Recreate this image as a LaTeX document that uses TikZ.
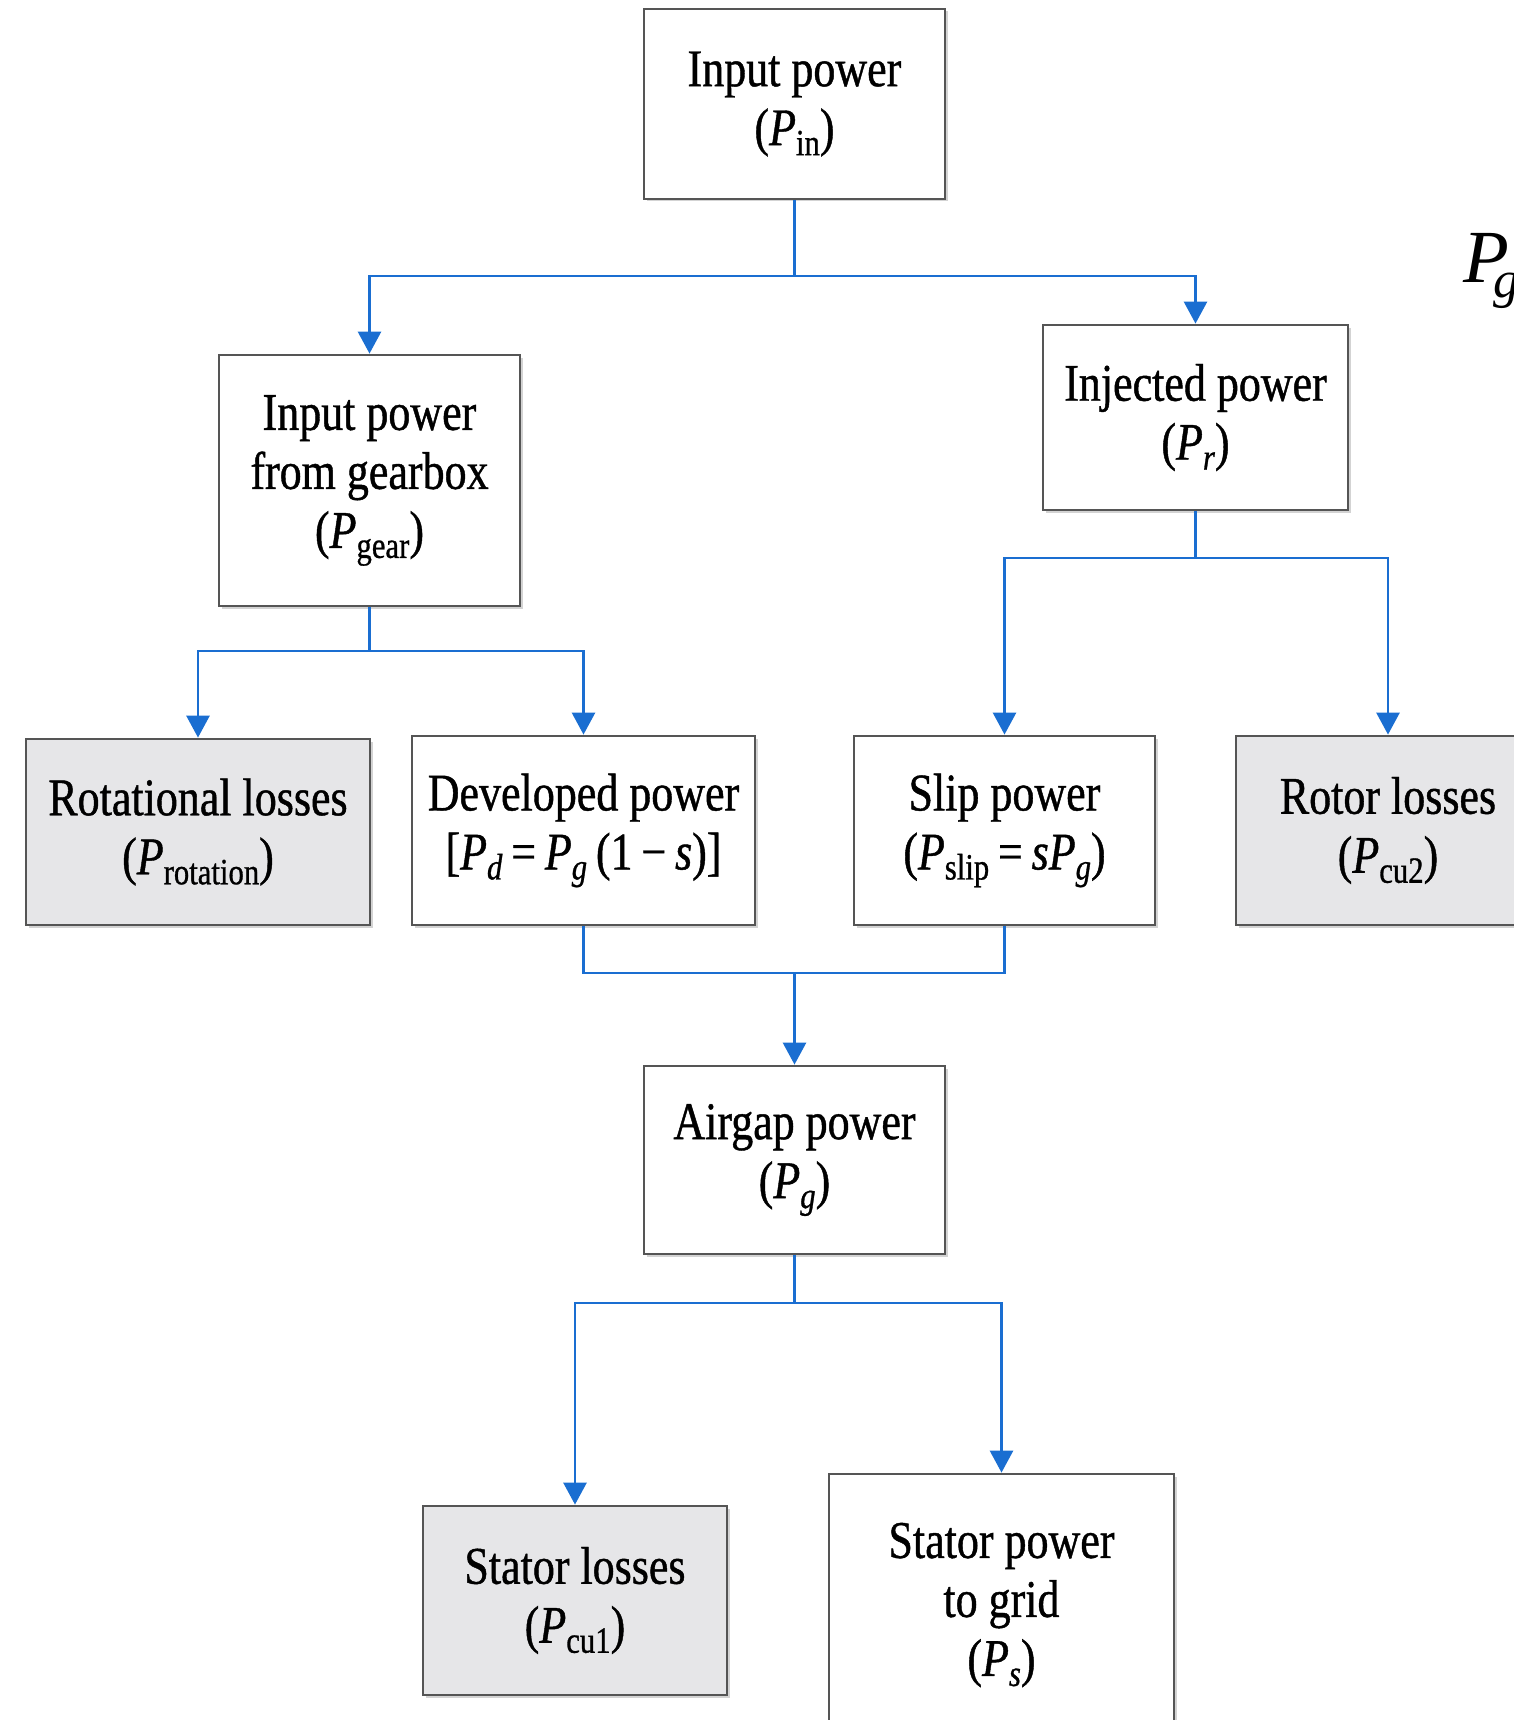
\documentclass[tikz,border=0pt]{standalone}
\usepackage{fontspec}
\setmainfont{Liberation Serif}[FakeStretch=0.83,FakeBold=0.8]
\newfontfamily\fragfont{Liberation Serif}
\usetikzlibrary{arrows.meta,shadows}
\definecolor{linkblue}{HTML}{1A6ED1}
\definecolor{boxline}{HTML}{555555}
\definecolor{lossfill}{HTML}{E6E6E8}
\newcommand\Pv{\textit{P}}
\newcommand\sbs[1]{\raisebox{-10pt}{\fontsize{37}{37}\selectfont #1}}
\begin{document}
\begin{tikzpicture}[x=1pt,y=-1pt,
  box/.style={draw=boxline, line width=2.8pt, fill=white, inner sep=0pt, align=center,
    font=\fontsize{53}{59}\selectfont,
    drop shadow={shadow xshift=2.5pt,shadow yshift=-2.5pt,opacity=0.35}},
  lossbox/.style={box, fill=lossfill},
  link/.style={draw=linkblue, line width=2.8pt},
  flow/.style={link, -{Triangle[width=23pt,length=22pt]}}]
\useasboundingbox (0,0) rectangle (1514,1720);
\clip (0,0) rectangle (1514,1720);

\node[box, minimum width=301pt, minimum height=190pt] (pin) at (794.5,104) {Input power\\(\Pv\sbs{in})};
\node[box, minimum width=301pt, minimum height=251pt] (gear) at (369.5,480.5) {Input power\\from gearbox\\(\Pv\sbs{gear})};
\node[box, minimum width=305pt, minimum height=185pt] (inj) at (1195.5,417.5) {Injected power\\(\Pv\sbs{\textit{r}})};
\node[lossbox, minimum width=344pt, minimum height=186pt] (rot) at (198,832) {Rotational losses\\(\Pv\sbs{rotation})};
\node[box, minimum width=343pt, minimum height=189pt] (dev) at (583.5,830.5) {Developed power\\{[}\Pv\sbs{\textit{d}}\,=\,\Pv\sbs{\textit{g}}\,(1\,−\,\textit{s})]};
\node[box, minimum width=301pt, minimum height=189pt] (slip) at (1004.5,830.5) {Slip power\\(\Pv\sbs{slip}\,=\,\textit{s}\Pv\sbs{\textit{g}})};
\node[lossbox, minimum width=304pt, minimum height=189pt] (rotor) at (1388,830.5) {Rotor losses\\(\Pv\sbs{cu2})};
\node[box, minimum width=301pt, minimum height=188pt] (air) at (794.5,1160) {Airgap power\\(\Pv\sbs{\textit{g}})};
\node[lossbox, minimum width=304pt, minimum height=189pt] (statl) at (575,1600.5) {Stator losses\\(\Pv\sbs{cu1})};
\node[box, minimum width=345pt, minimum height=262pt] (statp) at (1001.5,1605) {Stator power\\to grid\\(\Pv\sbs{\textit{s}})};

\node[anchor=base west, inner sep=0pt, font=\fragfont\itshape\fontsize{75}{75}\selectfont] (frag) at (1463,283) {P\kern-16pt\raisebox{-14pt}{\fontsize{52}{52}\selectfont g}};

\coordinate (j1) at (794.5,276);
\coordinate (j2) at (369.5,651);
\coordinate (j3) at (1195.5,558);
\coordinate (j4) at (794.5,973);
\coordinate (j5) at (794.5,1303);

\draw[link] (pin.south) -- (j1);
\draw[flow] (j1) -| (gear.north);
\draw[flow] (j1) -| (inj.north);

\draw[link] (gear.south) -- (j2);
\draw[flow] (j2) -| (rot.north);
\draw[flow] (j2) -| (dev.north);

\draw[link] (inj.south) -- (j3);
\draw[flow] (j3) -| (slip.north);
\draw[flow] (j3) -| (rotor.north);

\draw[link] (dev.south) |- (j4);
\draw[link] (slip.south) |- (j4);
\draw[flow] (j4) -- (air.north);

\draw[link] (air.south) -- (j5);
\draw[flow] (j5) -| (statl.north);
\draw[flow] (j5) -| (statp.north);
\end{tikzpicture}
\end{document}
